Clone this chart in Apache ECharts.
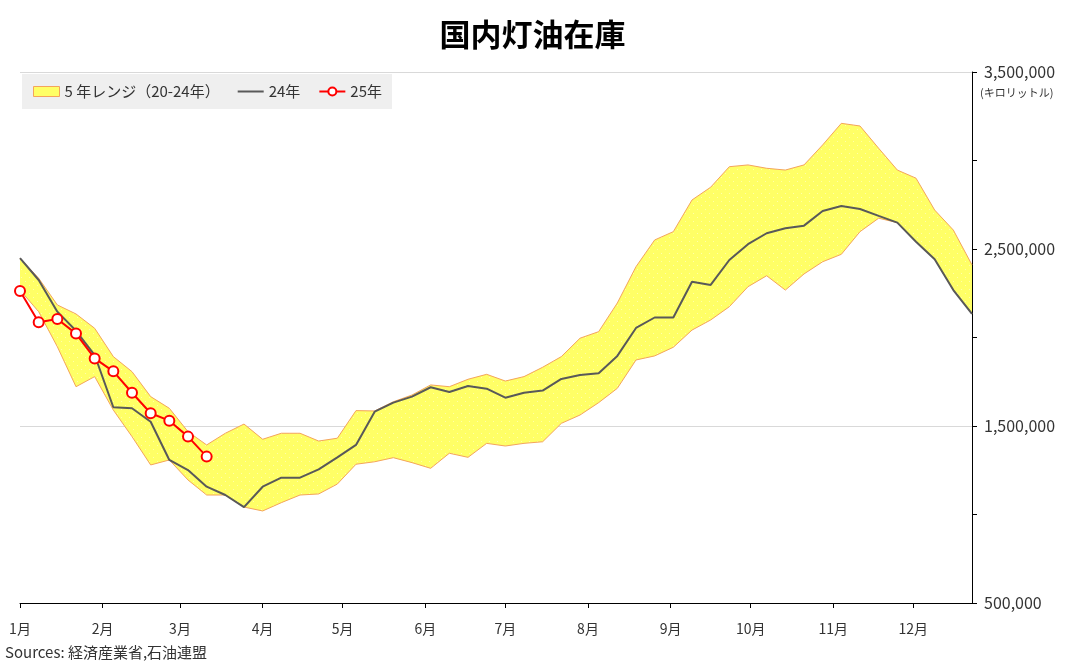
<!DOCTYPE html>
<html>
<head>
<meta charset="utf-8">
<script src="https://cdn.jsdelivr.net/npm/echarts@6/dist/echarts.min.js"></script>
<style>
html,body{margin:0;padding:0;background:#fff;}
#chart{width:1065px;height:669px;}
</style>
</head>
<body>
<div id="chart"></div>
<script>
// ---- data (weekly, day offset from 1 Jan) ----
const monthLabels = ['1月','2月','3月','4月','5月','6月','7月','8月','9月','10月','11月','12月'];
const monthStartDays = [0,31,60,91,121,152,182,213,244,274,305,335];
const upper5y = [2448000,2335000,2184000,2133000,2052000,1892000,1807000,1666000,1600000,1468000,
  1393000,1459000,1511000,1425000,1459000,1459000,1415000,1431000,1587000,1585000,
  1637000,1675000,1732000,1722000,1764000,1792000,1754000,1779000,1832000,1892000,
  1996000,2033000,2195000,2400000,2551000,2598000,2777000,2849000,2965000,2975000,
  2956000,2946000,2975000,3088000,3210000,3195000,3069000,2946000,2900000,2720000,
  2607000,2410000];
const lower5y = [2268000,2146000,1948000,1722000,1779000,1590000,1440000,1280000,1308000,1195000,
  1110000,1110000,1042000,1020000,1067000,1110000,1116000,1172000,1284000,1298000,
  1321000,1293000,1261000,1346000,1323000,1402000,1387000,1402000,1411000,1515000,
  1562000,1632000,1713000,1873000,1896000,1945000,2042000,2099000,2174000,2287000,
  2349000,2268000,2359000,2428000,2470000,2598000,2674000,2649000,2541000,2442000,
  2268000,2133000];
const y2024 = [2448000,2325000,2146000,2038000,1901000,1606000,1600000,1524000,1308000,1251000,
  1157000,1110000,1042000,1157000,1208000,1208000,1255000,1323000,1393000,1581000,
  1632000,1666000,1719000,1692000,1726000,1711000,1660000,1688000,1700000,1766000,
  1788000,1798000,1896000,2054000,2113000,2113000,2315000,2297000,2438000,2527000,
  2589000,2617000,2632000,2715000,2743000,2726000,2687000,2649000,2541000,2442000,
  2268000,2133000];
const y2025 = [2263000,2086000,2105000,2022000,1882000,1809000,1688000,1572000,1530000,1440000,1327000];
const yTickLabels = [500000,1500000,2500000,3500000];

const weekDay = i => i * 7;
const pairs = arr => arr.map((v, i) => [weekDay(i), v]);

// faint dotted yellow pattern
const pc = document.createElement('canvas');
pc.width = 8; pc.height = 8;
const pctx = pc.getContext('2d');
pctx.fillStyle = '#ffff66'; pctx.fillRect(0,0,8,8);
pctx.fillStyle = 'rgba(255,255,255,0.45)';
pctx.fillRect(1,1,1,1); pctx.fillRect(5,5,1,1);

const FONT = '"Noto Sans CJK JP", "Noto Sans", sans-serif';
const bandName = '5 年レンジ（20-24年）';
const edge = '#f4a45c';

const chart = echarts.init(document.getElementById('chart'), null, {renderer: 'canvas'});
chart.setOption({
  animation: false,
  backgroundColor: '#fff',
  textStyle: {fontFamily: FONT},
  title: {
    text: '国内灯油在庫', left: 'center', top: 14,
    textStyle: {fontSize: 31, fontWeight: 'bold', color: '#000', fontFamily: FONT}
  },
  legend: {
    left: 22, top: 74, padding: [10, 10, 10, 11],
    backgroundColor: '#efefef',
    itemWidth: 26, itemHeight: 10, itemGap: 18,
    textStyle: {fontSize: 15, color: '#333', fontFamily: FONT},
    data: [
      {name: bandName, icon: 'rect', itemStyle: {color: '#ffff66', borderColor: edge, borderWidth: 1}},
      {name: '24年', icon: 'path://M0,0H26V2H0Z', itemStyle: {color: '#595959'}},
      {name: '25年'}
    ]
  },
  graphic: [
    {type: 'text', left: 980, top: 87, style: {text: '(キロリットル)', fill: '#333', font: '11px ' + FONT}},
    {type: 'text', left: 5, top: 645, style: {text: 'Sources: 経済産業省,石油連盟', fill: '#333', font: '15px ' + FONT}}
  ],
  grid: {left: 20, right: 93, top: 72, bottom: 66, containLabel: false},
  xAxis: {
    type: 'value', min: 0, max: weekDay(upper5y.length - 1),
    axisLine: {show: true, onZero: false, lineStyle: {color: '#000', width: 1}},
    axisTick: {show: true, length: 5, customValues: monthStartDays, lineStyle: {color: '#000'}},
    axisLabel: {
      customValues: monthStartDays, fontSize: 14, color: '#333', margin: 19,
      formatter: v => monthLabels[monthStartDays.indexOf(v)] || ''
    },
    splitLine: {show: false}
  },
  yAxis: {
    type: 'value', position: 'right', min: 500000, max: 3500000, interval: 500000,
    axisLine: {show: true, onZero: false, lineStyle: {color: '#000', width: 1}},
    axisTick: {show: true, length: 5, lineStyle: {color: '#000'}},
    axisLabel: {
      fontSize: 16, color: '#333', margin: 12,
      formatter: v => yTickLabels.includes(v) ? v.toLocaleString('en-US') : ''
    },
    splitLine: {show: true, lineStyle: {color: ['rgba(0,0,0,0)', 'rgba(0,0,0,0)', '#d9d9d9', 'rgba(0,0,0,0)'], width: 1}}
  },
  series: [
    {
      name: bandName, type: 'custom', z: 1,
      data: [[weekDay(0), upper5y[0]]],
      itemStyle: {color: '#ffff66'},
      renderItem: (params, api) => {
        const up = upper5y.map((v, i) => api.coord([weekDay(i), v]));
        const lo = lower5y.map((v, i) => api.coord([weekDay(i), v]));
        return {
          type: 'group',
          children: [
            {type: 'polygon', shape: {points: up.concat(lo.slice().reverse())},
             style: {fill: {image: pc, repeat: 'repeat'}, stroke: null}},
            {type: 'polyline', shape: {points: up}, style: {stroke: edge, lineWidth: 1, fill: null}},
            {type: 'polyline', shape: {points: lo}, style: {stroke: edge, lineWidth: 1, fill: null}}
          ]
        };
      }
    },
    {
      name: '24年', type: 'line', data: pairs(y2024), symbol: 'none',
      lineStyle: {color: '#595959', width: 2}, itemStyle: {color: '#595959'}, z: 3
    },
    {
      name: '25年', type: 'line', data: pairs(y2025), symbol: 'circle', symbolSize: 10,
      lineStyle: {color: '#ff0000', width: 2},
      itemStyle: {color: '#fff', borderColor: '#ff0000', borderWidth: 2}, z: 4
    }
  ]
});
</script>
</body>
</html>
